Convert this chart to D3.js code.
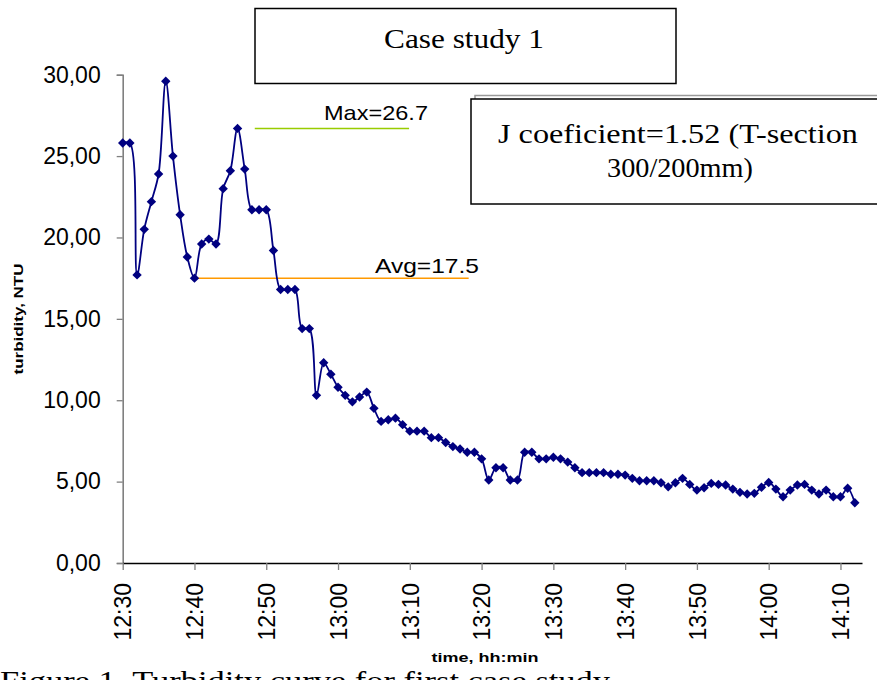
<!DOCTYPE html>
<html>
<head>
<meta charset="utf-8">
<script src="https://cdn.jsdelivr.net/npm/d3@7/dist/d3.min.js"></script>
<style>
  body { margin: 0; background: #fff; }
  svg { display: block; }
</style>
</head>
<body>
<div id="chart"></div>
<script>
// turbidity readings, one per minute starting 12:30
const turbidity = [
  25.8, 25.8, 17.7, 20.5, 22.2, 23.9, 29.6, 25.0, 21.4, 18.8,
  17.5, 19.6, 19.9, 19.6, 23.0, 24.1, 26.7, 24.2, 21.7, 21.7,
  21.7, 19.2, 16.8, 16.8, 16.8, 14.4, 14.4, 10.3, 12.3, 11.6,
  10.8, 10.3, 9.9, 10.2, 10.5, 9.5, 8.7, 8.8, 8.9, 8.5,
  8.1, 8.1, 8.1, 7.7, 7.7, 7.4, 7.15, 7.0, 6.8, 6.8,
  6.4, 5.1, 5.85, 5.85, 5.1, 5.1, 6.8, 6.8, 6.4, 6.4,
  6.5, 6.4, 6.2, 5.85, 5.55, 5.55, 5.55, 5.55, 5.45, 5.45,
  5.4, 5.2, 5.05, 5.05, 5.05, 4.93, 4.68, 4.93, 5.2, 4.83,
  4.48, 4.62, 4.89, 4.83, 4.79, 4.54, 4.34, 4.24, 4.28, 4.65,
  4.95, 4.54, 4.07, 4.48, 4.79, 4.83, 4.48, 4.24, 4.48, 4.07,
  4.07, 4.59, 3.7
];
const xTickLabels = ["12:30", "12:40", "12:50", "13:00", "13:10", "13:20",
                     "13:30", "13:40", "13:50", "14:00", "14:10"];
const yTicks = [0, 5, 10, 15, 20, 25, 30];

// reference lines (value, start minute, end minute)
const maxLine = [26.7, 18.4, 39.9];
const avgLine = [17.5, 10.3, 48.2];

const width = 877, height = 680;
const margin = { top: 74.7, right: 15, bottom: 117, left: 122.7 };

const svg = d3.select("#chart").append("svg")
    .attr("width", width)
    .attr("height", height);

const x = d3.scaleLinear()
    .domain([0, 103])
    .range([margin.left, width - margin.right]);

const y = d3.scaleLinear()
    .domain([0, 30])
    .range([height - margin.bottom, margin.top]);

// y axis
const yAxis = svg.append("g")
    .attr("transform", `translate(${margin.left},0)`)
    .call(d3.axisLeft(y)
        .tickValues(yTicks)
        .tickSize(6)
        .tickPadding(16)
        .tickFormat(d => d3.format(".2f")(d).replace(".", ",")));
yAxis.select(".domain").attr("stroke", "#808080").attr("stroke-width", 1.6);
yAxis.selectAll(".tick line").attr("stroke", "#808080").attr("stroke-width", 1.3);
yAxis.selectAll("text")
    .attr("font-family", "Arial, 'Liberation Sans', sans-serif")
    .attr("font-size", 23)
    .attr("fill", "#000");

// x axis
const xAxis = svg.append("g")
    .attr("transform", `translate(0,${y(0)})`)
    .call(d3.axisBottom(x)
        .tickValues(xTickLabels.map((d, i) => i * 10))
        .tickSize(7)
        .tickSizeOuter(0)
        .tickFormat((d, i) => xTickLabels[i]));
xAxis.select(".domain").attr("stroke", "#000").attr("stroke-width", 1.3);
xAxis.selectAll(".tick line").attr("stroke", "#808080").attr("stroke-width", 1.3);
xAxis.selectAll("text")
    .attr("font-family", "Arial, 'Liberation Sans', sans-serif")
    .attr("font-size", 23)
    .attr("fill", "#000")
    .attr("text-anchor", "end")
    .attr("transform", "rotate(-90)")
    .attr("x", -20)
    .attr("y", 0)
    .attr("dy", "0.36em");

// axis titles
svg.append("text")
    .attr("transform", "translate(23,319) rotate(-90)")
    .attr("text-anchor", "middle")
    .attr("font-family", "Arial, 'Liberation Sans', sans-serif")
    .attr("font-weight", "bold")
    .attr("font-size", 12)
    .attr("textLength", 111)
    .attr("lengthAdjust", "spacingAndGlyphs")
    .text("turbidity, NTU");

svg.append("text")
    .attr("x", 485)
    .attr("y", 662)
    .attr("text-anchor", "middle")
    .attr("font-family", "Arial, 'Liberation Sans', sans-serif")
    .attr("font-weight", "bold")
    .attr("font-size", 13)
    .attr("textLength", 107)
    .attr("lengthAdjust", "spacingAndGlyphs")
    .text("time, hh:min");

// max / avg lines
svg.append("line")
    .attr("x1", x(maxLine[1])).attr("x2", x(maxLine[2]))
    .attr("y1", y(maxLine[0])).attr("y2", y(maxLine[0]))
    .attr("stroke", "#99cc00").attr("stroke-width", 1.5);
svg.append("text")
    .attr("x", 324).attr("y", 120)
    .attr("font-family", "Arial, 'Liberation Sans', sans-serif")
    .attr("font-size", 21)
    .attr("textLength", 104)
    .attr("lengthAdjust", "spacingAndGlyphs")
    .text("Max=" + maxLine[0]);

svg.append("line")
    .attr("x1", x(avgLine[1])).attr("x2", x(avgLine[2]))
    .attr("y1", y(avgLine[0])).attr("y2", y(avgLine[0]))
    .attr("stroke", "#ff9900").attr("stroke-width", 1.5);
svg.append("text")
    .attr("x", 375).attr("y", 273)
    .attr("font-family", "Arial, 'Liberation Sans', sans-serif")
    .attr("font-size", 21)
    .attr("textLength", 104)
    .attr("lengthAdjust", "spacingAndGlyphs")
    .text("Avg=" + avgLine[0]);

// data line
const line = d3.line()
    .x((d, i) => x(i))
    .y(d => y(d))
    .curve(d3.curveCatmullRom.alpha(0.5));

svg.append("path")
    .datum(turbidity)
    .attr("fill", "none")
    .attr("stroke", "#000080")
    .attr("stroke-width", 1.8)
    .attr("d", line);

svg.append("g")
    .selectAll("path")
    .data(turbidity)
    .enter()
    .append("path")
    .attr("transform", (d, i) => `translate(${x(i)},${y(d)})`)
    .attr("d", "M0,-4.7L4.7,0L0,4.7L-4.7,0Z")
    .attr("fill", "#000080");

// title box
svg.append("rect")
    .attr("x", 255).attr("y", 8.5)
    .attr("width", 421).attr("height", 75)
    .attr("fill", "#fff").attr("stroke", "#000").attr("stroke-width", 1.5);
svg.append("text")
    .attr("x", 464).attr("y", 48)
    .attr("text-anchor", "middle")
    .attr("font-family", "'Times New Roman', 'Liberation Serif', serif")
    .attr("font-size", 27)
    .attr("textLength", 160)
    .attr("lengthAdjust", "spacingAndGlyphs")
    .text("Case study 1");

// coefficient box (with shadow edge)
svg.append("rect")
    .attr("x", 475).attr("y", 95.5)
    .attr("width", 420).attr("height", 105)
    .attr("fill", "#fff").attr("stroke", "#999").attr("stroke-width", 1.5);
svg.append("rect")
    .attr("x", 471).attr("y", 99)
    .attr("width", 420).attr("height", 105)
    .attr("fill", "#fff").attr("stroke", "#000").attr("stroke-width", 1.5);
const jText = svg.append("text")
    .attr("text-anchor", "middle")
    .attr("font-family", "'Times New Roman', 'Liberation Serif', serif")
    .attr("font-size", 28);
jText.append("tspan").attr("x", 678).attr("y", 143)
    .attr("textLength", 360).attr("lengthAdjust", "spacingAndGlyphs")
    .text("J coeficient=1.52 (T-section");
jText.append("tspan").attr("x", 680).attr("y", 177)
    .attr("textLength", 146).attr("lengthAdjust", "spacingAndGlyphs")
    .text("300/200mm)");

// caption, cut by the bottom edge as in the source figure
svg.append("text")
    .attr("x", 0).attr("y", 690)
    .attr("font-family", "'Times New Roman', 'Liberation Serif', serif")
    .attr("font-size", 27)
    .attr("textLength", 610)
    .attr("lengthAdjust", "spacingAndGlyphs")
    .text("Figure 1. Turbidity curve for first case study");
</script>
</body>
</html>
